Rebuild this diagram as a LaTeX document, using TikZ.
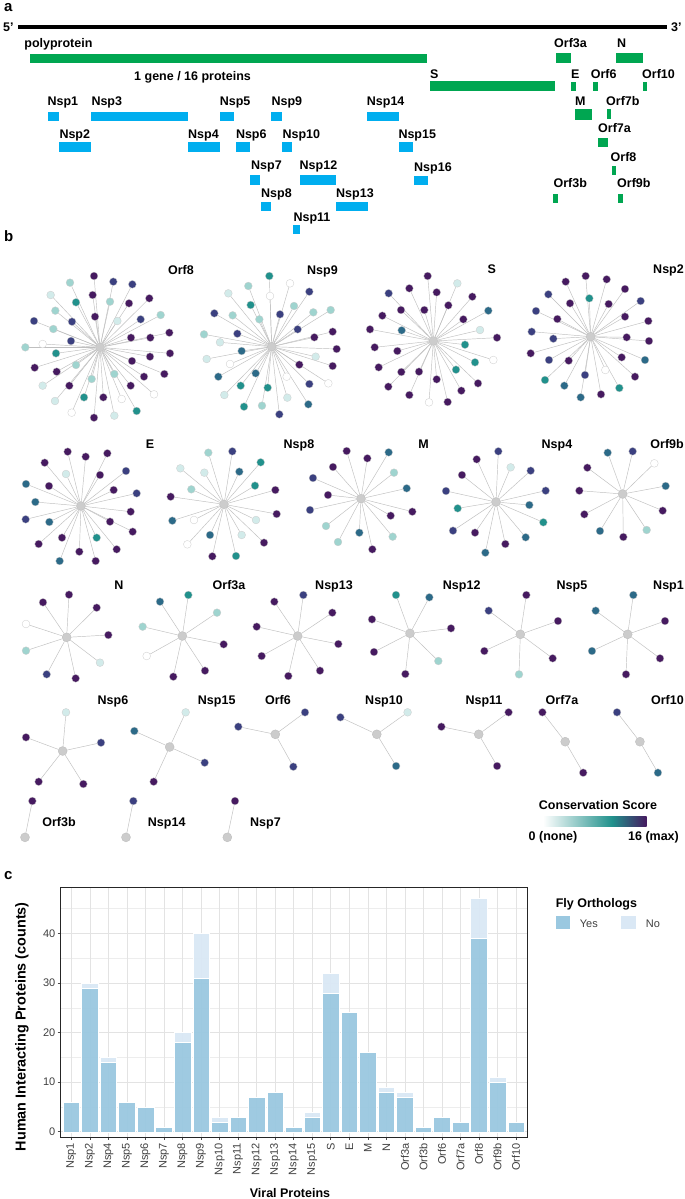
\documentclass[tikz,border=0pt]{standalone}
\usepackage{fontspec}
\setmainfont{Liberation Sans}
\usetikzlibrary{backgrounds}
\definecolor{vW}{HTML}{FFFFFF}
\definecolor{vL}{HTML}{D2EBEA}
\definecolor{vl}{HTML}{9FD4CF}
\definecolor{vT}{HTML}{21918C}
\definecolor{vB}{HTML}{2C6A88}
\definecolor{vN}{HTML}{3B4080}
\definecolor{vP}{HTML}{461A60}
\definecolor{gGreen}{HTML}{00A651}
\definecolor{gBlue}{HTML}{00AEEF}
\definecolor{barYes}{HTML}{9AC8E0}
\definecolor{barNo}{HTML}{DAE8F5}
\definecolor{hubgray}{HTML}{CCCCCC}
\newcommand\starnet[3]{%
  \node[hub] (#1) at (#2) {};
  \foreach \px/\py/\col [count=\k] in {#3} {%
    \node[leaf, fill=v\col] (#1-\k) at (\px,\py) {};
  }%
  \begin{pgfonlayer}{background}%
    \foreach \px/\py/\col [count=\k] in {#3} {\draw[edge] (#1) -- (#1-\k);}%
  \end{pgfonlayer}%
}
\begin{document}
\begin{tikzpicture}[x=1pt, y=-1pt,
  lbl/.style={font=\fontsize{12.5}{14}\selectfont\bfseries, inner sep=0},
  plbl/.style={font=\fontsize{15}{17}\selectfont\bfseries, inner sep=0},
  hub/.style={circle, fill=hubgray, draw=gray!55, line width=0.3pt, minimum size=9pt, inner sep=0},
  leaf/.style={circle, draw=gray!40, line width=0.3pt, minimum size=7.8pt, inner sep=0},
  edge/.style={draw=gray!50, line width=0.45pt},
  gmajor/.style={draw=black!11, line width=0.6pt},
  gminor/.style={draw=black!7, line width=0.35pt},
  tickl/.style={draw=black!70, line width=0.5pt},
  xtl/.style={font=\fontsize{11}{12}\selectfont, text=black!75, inner sep=0},
  ytl/.style={font=\fontsize{11}{12}\selectfont, text=black!75, inner sep=0}]
\useasboundingbox (0,0) rectangle (685,1199);
\begin{pgfonlayer}{background}\fill[white] (0,0) rectangle (685,1199);\end{pgfonlayer}

% ---------------- panel a ----------------
\node[plbl, anchor=base west] (pa) at (4,11.5) {a};
\node[lbl, anchor=base west] (p5) at (3,31.5) {5’};
\node[lbl, anchor=base west] (p3) at (671,31.5) {3’};
\draw[line width=3.5pt] (18.4,27) -- (667,27);
\foreach \xa/\xb/\ya/\yb in {29.9/426.9/54/63.5, 429.5/554.7/80.5/90.5, 555.6/571/53.5/63.5, 616/642.5/53.5/63.5, 571/576/81.5/90.5, 593/598/81.5/90.5, 642.5/647/81.5/90.5, 575/592/108.5/119.5, 607/611/109/119, 598/607.8/138.3/147.3, 611.8/616.2/166/175, 553.4/557.8/194.3/203.3, 618.4/622.8/194.3/203.3}
  \fill[gGreen] (\xa,\ya) rectangle (\xb,\yb);
\foreach \xa/\xb/\ya/\yb in {48.3/59.3/111.5/120.5, 91.3/188/111.5/120.5, 219.6/234/111.5/120.5, 271.4/282/111.5/120.5, 366.7/398.8/111.5/120.5, 59.3/91.3/142.3/152.3, 188/219.6/142.3/152.3, 235.8/249.5/142.3/152.3, 282.4/292/142.3/152.3, 398.8/412.8/142.3/152.3, 250.3/260/175/184.5, 299.5/336/175/184.5, 413.7/428.2/175.5/184.5, 261/271.4/202.3/211, 336/368/202.3/211, 293.4/299.5/225/234.3}
  \fill[gBlue] (\xa,\ya) rectangle (\xb,\yb);
\node[lbl, anchor=base west] (gene) at (134,80.5) {1 gene / 16 proteins};
\foreach \tx/\px/\py [count=\k] in {polyprotein/24.2/47.8, S/430/78.5, Orf3a/554/47.8, N/617/47.8, E/571/78.5, Orf6/590.7/78.5, Orf10/642/78.5, M/575/105, Orf7b/606/105, Nsp1/47.4/105, Nsp3/91.3/105, Nsp5/219.6/105, Nsp9/271.4/105, Nsp14/366.7/105, Nsp2/59.3/138.5, Nsp4/188/138.5, Nsp6/235.8/138.5, Nsp10/282.4/138.5, Nsp15/398.3/138.5, Orf7a/598/132.8, Orf8/610.5/161, Nsp7/251/169.5, Nsp12/299.5/169.5, Nsp16/414/171, Orf3b/553.4/187.8, Orf9b/617/187.8, Nsp8/261/197.8, Nsp13/336/197.8, Nsp11/293.4/221.2}
  \node[lbl, anchor=base west] (ga\k) at (\px,\py) {\tx};

% ---------------- panel b ----------------
\node[plbl, anchor=base west] (pb) at (4,241) {b};
\begin{scope}[shift={(0,240)}, x=0.33333pt, y=-0.33333pt]
\starnet{hOrf8}{300,322}{282/108/P, 340/125/N, 397/133/N, 210/128/l, 152/165/L, 278/165/P, 228/187/T, 330/185/l, 387/190/P, 448/175/P, 166/212/l, 216/245/N, 285/230/P, 352/243/L, 422/238/N, 482/225/l, 102/243/N, 160/267/l, 508/278/P, 393/293/P, 451/293/P, 213/303/N, 128/312/W, 76/322/l, 168/340/T, 510/340/P, 450/350/P, 396/363/P, 104/383/P, 228/375/l, 170/395/P, 493/402/P, 432/410/P, 343/402/l, 275/417/l, 128/437/L, 208/437/P, 392/437/P, 462/463/W, 252/472/T, 310/472/P, 365/477/W, 165/483/L, 410/513/T, 215/518/W, 282/533/P, 343/527/L}
\starnet{hNsp9}{815,320}{808/108/T, 870/130/W, 745/138/l, 685/160/L, 810/168/W, 928/155/N, 752/195/T, 882/198/l, 840/223/N, 940/217/l, 992/210/l, 643/220/N, 698/226/l, 778/238/l, 893/268/N, 998/275/P, 712/281/N, 943/292/P, 612/283/l, 660/307/L, 1010/327/P, 725/333/B, 947/350/L, 620/357/L, 690/372/W, 898/374/P, 998/378/P, 655/410/B, 767/400/B, 860/410/W, 928/432/N, 985/430/W, 722/437/T, 803/443/T, 673/465/L, 862/473/L, 925/493/B, 732/500/T, 786/497/l, 838/523/N}
\end{scope}
\begin{scope}[shift={(340,240)}, x=0.33333pt, y=-0.33333pt]
\starnet{hS}{280,303}{263/108/P, 352/130/L, 146/160/N, 208/145/P, 290/157/P, 397/170/P, 183/210/P, 253/210/P, 325/196/P, 445/212/B, 127/227/P, 370/238/P, 90/268/P, 185/271/B, 420/270/L, 471/293/P, 104/322/P, 172/333/P, 375/314/T, 460/360/W, 405/367/T, 116/382/P, 184/396/P, 237/395/P, 348/389/T, 290/418/P, 414/430/P, 145/440/P, 364/452/P, 208/465/P, 267/487/W, 323/486/P}
\starnet{hNsp2}{752,290}{737/108/P, 677/125/P, 800/118/P, 855/147/P, 625/163/N, 748/175/T, 690/190/P, 806/192/P, 902/183/N, 588/213/N, 652/237/P, 855/230/P, 925/243/P, 575/275/N, 640/296/N, 860/292/P, 927/303/P, 572/340/P, 627/360/N, 686/362/P, 845/352/P, 915/360/B, 735/405/N, 796/390/W, 615/420/T, 673/437/B, 885/410/P, 838/444/T, 722/472/B, 783/463/P}
\end{scope}
\begin{scope}[shift={(0,420)}, x=0.33333pt, y=-0.33333pt]
\starnet{hE}{243,258}{203/95/P, 257/110/P, 322/100/P, 134/128/P, 198/162/L, 300/165/P, 378/153/N, 78/192/B, 147/198/P, 341/210/P, 410/220/N, 106/246/B, 392/275/P, 77/298/N, 148/306/B, 330/305/P, 398/335/P, 186/353/P, 290/353/T, 116/372/P, 238/395/P, 350/388/P, 179/423/B, 287/423/P}
\starnet{hNsp8}{672,253}{625/98/l, 697/94/N, 541/145/L, 613/158/L, 718/155/B, 782/127/T, 574/208/l, 765/197/T, 512/230/P, 826/210/P, 830/282/P, 517/302/B, 582/300/W, 768/300/L, 630/345/B, 725/345/L, 562/373/W, 792/368/P, 637/409/P, 708/408/T}
\end{scope}
\begin{scope}[shift={(340,420)}, x=0.33333pt, y=-0.33333pt]
\starnet{hM}{63,236}{20/93/P, 82/115/P, 146/97/B, -21/141/P, 162/158/l, -81/174/N, 200/205/B, -36/225/P, -90/270/N, 217/275/P, 152/287/P, -42/318/l, 58/338/B, 158/350/l, -6/366/l, 97/388/P}
\starnet{hNsp4}{468,246}{475/94/N, 410/118/P, 512/142/L, 572/152/N, 366/165/P, 318/213/N, 617/212/N, 568/255/B, 353/265/T, 610/307/T, 339/332/N, 405/338/P, 557/352/B, 496/372/P, 436/398/B}
\starnet{hOrf9b}{848,222}{803/98/B, 878/94/N, 943/130/W, 742/143/P, 718/212/P, 977/198/B, 733/283/P, 968/272/P, 780/333/B, 850/351/P, 920/330/l}
\end{scope}
\begin{scope}[shift={(0,570)}, x=0.33333pt, y=-0.33333pt]
\starnet{hN}{200,202}{207/74/P, 129/97/P, 290/113/P, 78/162/W, 325/195/P, 78/242/l, 300/278/L, 140/313/N, 227/325/P}
\starnet{hOrf3a}{547,198}{565/75/T, 480/95/B, 651/128/l, 428/170/l, 671/223/P, 440/258/W, 615/302/P, 520/320/P}
\starnet{hNsp13}{893,198}{910/75/N, 823/95/P, 997/128/P, 770/170/P, 1015/222/P, 785/258/P, 960/302/P, 865/318/P}
\end{scope}
\begin{scope}[shift={(340,570)}, x=0.33333pt, y=-0.33333pt]
\starnet{hNsp12}{210,190}{168/75/T, 268/82/B, 96/148/P, 333/175/P, 102/246/P, 295/273/l, 196/312/P}
\starnet{hNsp5}{541,193}{559/75/P, 446/122/N, 654/153/P, 433/243/P, 638/265/P, 537/313/l}
\starnet{hNsp1}{863,193}{880/75/B, 767/122/B, 975/153/P, 756/243/B, 960/265/P, 858/313/P}
\end{scope}
\begin{scope}[shift={(0,700)}, x=0.33333pt, y=-0.33333pt]
\starnet{hNsp6}{188,153}{198/37/L, 78/112/P, 303/128/N, 116/245/P, 250/252/P}
\starnet{hNsp15}{509,141}{557/37/L, 403/93/B, 614/188/N, 461/245/P}
\starnet{hOrf6}{826,103}{915/37/N, 715/80/N, 880/200/N}
\starnet{hOrf3b}{75,412}{97/303/P}
\starnet{hNsp14}{378,412}{400/303/N}
\starnet{hNsp7}{682,412}{705/303/P}
\end{scope}
\starnet{hNsp10}{376.8,734.3}{407.6/712.3/L, 340.4/717.3/N, 396.1/766/B}
\starnet{hNsp11}{478.7,734.3}{508.6/712.3/P, 441.4/726.7/P, 497.1/766/P}
\starnet{hOrf7a}{565.2,741.7}{542.4/712.3/P, 583.2/772.7/P}
\starnet{hOrf10}{639.9,741.7}{617/712.3/N, 657.9/772.7/B}
\foreach \tx/\px/\py [count=\k] in {Orf8/181/274.5, Nsp9/322.5/274.5, S/491.7/273.5, E/150/448.5, Nsp8/299/448.5, M/423.5/448.5, Nsp4/557/448.5, N/119/589.5, Orf3a/229/589.5, Nsp13/334/589.5, Nsp12/461.7/589.5, Nsp5/572/589.5, Nsp6/113/704.5, Nsp15/216.7/704.5, Orf6/278/704.5, Nsp10/384/704.5, Nsp11/484/704.5, Orf7a/562/704.5, Orf3b/59/826, Nsp14/166.7/826, Nsp7/265.5/826}
  \node[lbl, anchor=base] (bl\k) at (\px,\py) {\tx};
\foreach \tx/\py [count=\k] in {Nsp2/273.5, Orf9b/448.5, Nsp1/589.5, Orf10/704.5}
  \node[lbl, anchor=base east] (br\k) at (684,\py) {\tx};
% legend
\node[lbl, anchor=base] (cstitle) at (598,809.5) {Conservation Score};
\shade[left color=white, right color=vT] (543,816) rectangle (612,826);
\shade[left color=vT, right color=vP] (612,816) rectangle (646.5,826);
\node[lbl, anchor=base] (csmin) at (553,840.5) {0 (none)};
\node[lbl, anchor=base] (csmax) at (653.5,840.5) {16 (max)};

% ---------------- panel c ----------------
\node[plbl, anchor=base west] (pc) at (4,879.5) {c};
\foreach \v in {5,15,25,35,45} \draw[gminor] (60.2,{1131.7-4.96*\v}) -- (527,{1131.7-4.96*\v});
\foreach \v in {0,10,20,30,40} \draw[gmajor] (60.2,{1131.7-4.96*\v}) -- (527,{1131.7-4.96*\v});
\foreach \i in {1,...,25} \draw[gmajor] ({60.2+(\i-0.4)*18.53},887.3) -- ({60.2+(\i-0.4)*18.53},1137.3);
\foreach \nm/\yes/\tot [count=\i] in {Nsp1/6/6, Nsp2/29/30, Nsp4/14/15, Nsp5/6/6, Nsp6/5/5, Nsp7/1/1, Nsp8/18/20, Nsp9/31/40, Nsp10/2/3, Nsp11/3/3, Nsp12/7/7, Nsp13/8/8, Nsp14/1/1, Nsp15/3/4, S/28/32, E/24/24, M/16/16, N/8/9, Orf3a/7/8, Orf3b/1/1, Orf6/3/3, Orf7a/2/2, Orf8/39/47, Orf9b/10/11, Orf10/2/2} {
  \pgfmathsetmacro\xc{60.2+(\i-0.4)*18.53}
  \pgfmathsetmacro\ya{1131.7-4.96*\yes}
  \pgfmathsetmacro\yb{1131.7-4.96*\tot}
  \filldraw[fill=barYes, fill opacity=0.95, draw=white, line width=0.4pt] ({\xc-8.3},1131.7) rectangle ({\xc+8.3},\ya);
  \ifdim\tot pt>\yes pt
    \filldraw[fill=barNo, fill opacity=0.95, draw=white, line width=0.4pt] ({\xc-8.3},\ya) rectangle ({\xc+8.3},\yb);
  \fi
  \draw[tickl] (\xc,1137.3) -- (\xc,1140);
  \node[xtl, rotate=90, anchor=east] (xt\i) at (\xc,1143) {\nm};
}
\foreach \v [count=\j] in {0,10,20,30,40} {
  \draw[tickl] (57.5,{1131.7-4.96*\v}) -- (60.2,{1131.7-4.96*\v});
  \node[ytl, anchor=east] (yt\j) at (55.5,{1131.7-4.96*\v}) {\v};
}
\draw[line width=0.9pt, black!85] (60.2,887.3) rectangle (527,1137.3);
\node[font=\fontsize{14.4}{16}\selectfont\bfseries, rotate=90, inner sep=0] (ytitle) at (22,1026.7) {Human Interacting Proteins (counts)};
\node[lbl, anchor=base] (xtitle) at (290,1197) {Viral Proteins};
\node[lbl, anchor=base west] (fly) at (555.6,907) {Fly Orthologs};
\fill[barYes] (555.6,916) rectangle (569.6,929.3);
\node[xtl, anchor=base west] (kyes) at (579.7,927.5) {Yes};
\fill[barNo] (621.4,916) rectangle (635.5,929.3);
\node[xtl, anchor=base west] (kno) at (645.6,927.5) {No};
\end{tikzpicture}
\end{document}
